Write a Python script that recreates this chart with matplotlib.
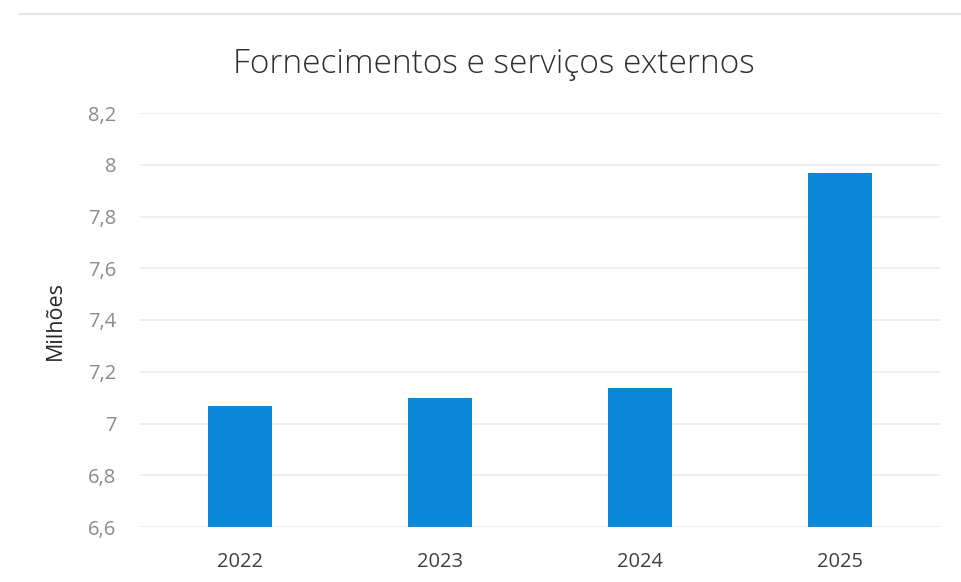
import matplotlib.pyplot as plt
from matplotlib.lines import Line2D

years = ['2022', '2023', '2024', '2025']
values = [7.068, 7.10, 7.137, 7.968]
yticks = [6.6, 6.8, 7.0, 7.2, 7.4, 7.6, 7.8, 8.0, 8.2]
ytick_labels = ['6,6', '6,8', '7', '7,2', '7,4', '7,6', '7,8', '8', '8,2']

plt.rcParams['font.family'] = ['Open Sans', 'DejaVu Sans']

fig = plt.figure(figsize=(9.61, 5.82), dpi=100)
ax = fig.add_axes([140/961, 55/582, 800/961, 414/582])

x = range(len(years))
ax.bar(x, [v - 6.6 for v in values], bottom=6.6, width=0.32, color='#0a87d6', zorder=3)

ax.set_xlim(-0.5, 3.5)
ax.set_ylim(6.6, 8.2)
ax.set_yticks(yticks)
ax.set_yticklabels(ytick_labels, color='#8a8a8a', fontsize=14.5)
ax.set_xticks(list(x))
ax.set_xticklabels(years, color='#404040', fontsize=14.5)
ax.tick_params(axis='y', length=0, pad=17)
ax.tick_params(axis='x', length=0, pad=18)
ax.grid(axis='y', color='#ececec', linewidth=1.2, zorder=0)
for s in ax.spines.values():
    s.set_visible(False)

ax.set_ylabel('Milhões', fontsize=15.5, color='#262626', labelpad=16)
fig.text(0.514, 0.890, 'Fornecimentos e serviços externos', ha='center', va='center',
         fontsize=24, color='#303030', fontweight='light')

# faint frame line at the top
fig.add_artist(Line2D([20/961, 960/961], [568/582, 568/582], color='#e6e6e6', lw=1.5))

fig.savefig('out.png', dpi=100)
